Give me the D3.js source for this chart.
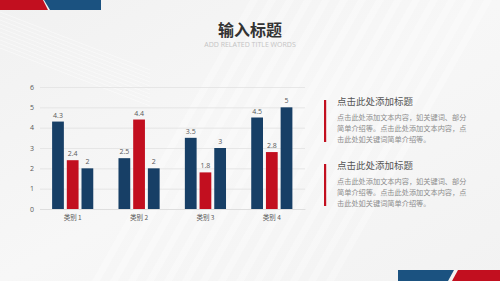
<!DOCTYPE html>
<html>
<head>
<meta charset="utf-8">
<script src="https://cdn.jsdelivr.net/npm/d3@7"></script>
<style>
  html, body { margin: 0; padding: 0; background: #f4f4f4; }
  svg { display: block; }
</style>
</head>
<body>
<svg class="slide" width="500" height="281"></svg>
<script>
// chart data
const categories = ['类别 1', '类别 2', '类别 3', '类别 4'];
const seriesNames = ['系列 1', '系列 2', '系列 3'];
const series1 = [4.3, 2.5, 3.5, 4.5];
const series2 = [2.4, 4.4, 1.8, 2.8];
const series3 = [2, 2, 3, 5];
const yTicks = [0, 1, 2, 3, 4, 5, 6];

// side text
const blockTitles = ['点击此处添加标题', '点击此处添加标题'];
const blockLines = [
  '点击此处添加文本内容，如关键词、部分',
  '简单介绍等。点击此处添加文本内容，点',
  '击此处如关键词简单介绍等。'
];

const blue = '#173f66';
const red = '#c20f1f';
const font = "'Noto Sans CJK SC', 'Noto Sans', sans-serif";

const svg = d3.select('svg.slide');

// background
const defs = svg.append('defs');
const bgGrad = defs.append('linearGradient')
    .attr('id', 'bgGrad')
    .attr('x1', 0).attr('y1', 0).attr('x2', 1).attr('y2', 1);
bgGrad.append('stop').attr('offset', '0%').attr('stop-color', '#f1f1f1');
bgGrad.append('stop').attr('offset', '50%').attr('stop-color', '#f7f7f7');
bgGrad.append('stop').attr('offset', '100%').attr('stop-color', '#f2f2f2');

svg.append('rect')
    .attr('width', 500).attr('height', 281)
    .attr('fill', 'url(#bgGrad)');

// faint diagonal stripes
const stripes = svg.append('g').attr('class', 'stripes');
d3.range(0, 14).forEach(i => {
  const x0 = 250 + i * 18;
  stripes.append('polygon')
    .attr('points', `${x0},0 ${x0 + 8},0 ${x0 - 150},281 ${x0 - 158},281`)
    .attr('fill', '#ffffff')
    .attr('opacity', 0.3);
});
d3.range(0, 10).forEach(i => {
  stripes.append('line')
    .attr('x1', 0).attr('y1', 12 + i * 4)
    .attr('x2', 150).attr('y2', 70 + i * 4)
    .attr('stroke', '#ffffff')
    .attr('stroke-width', 1)
    .attr('opacity', 0.45);
});

// corner decorations
const deco = svg.append('g').attr('class', 'deco');
deco.append('polygon').attr('points', '0,0 43,0 48,10 0,10').attr('fill', red);
deco.append('polygon').attr('points', '44,0 101,0 101,10 50,10').attr('fill', '#1b5280');
deco.append('polygon').attr('points', '398,270 454,270 448,281 398,281').attr('fill', '#1b5280');
deco.append('polygon').attr('points', '458,270 500,270 500,281 452,281').attr('fill', red);

// titles
svg.append('text')
    .attr('x', 250).attr('y', 36)
    .attr('text-anchor', 'middle')
    .style('font-family', font)
    .style('font-weight', 700)
    .style('font-size', '16px')
    .style('fill', '#333333')
    .text('输入标题');

svg.append('text')
    .attr('x', 250).attr('y', 47)
    .attr('text-anchor', 'middle')
    .style('font-family', "'Open Sans', sans-serif")
    .style('font-size', '7px')
    .style('fill', '#c4c4c4')
    .text('ADD RELATED TITLE WORDS');

// chart scales
const y = d3.scaleLinear().domain([0, 6]).range([209, 87]);
const x0 = d3.scaleBand().domain(categories).range([39.5, 305]).paddingInner(0.38).paddingOuter(0.19);
const x1 = d3.scaleBand().domain(seriesNames).range([0, x0.bandwidth()]).paddingInner(0.2);
const color = d3.scaleOrdinal().domain(seriesNames).range([blue, red, blue]);

const rows = categories.map((c, i) => ({
  cat: c,
  vals: [series1[i], series2[i], series3[i]].map((v, j) => ({ key: seriesNames[j], v }))
}));

const chart = svg.append('g').attr('class', 'chart');

// gridlines + y labels
const yAxis = d3.axisLeft(y).tickValues(yTicks).tickFormat(d3.format('d'))
    .tickSize(-(305 - 40)).tickPadding(6);
const yG = chart.append('g').attr('transform', 'translate(40,0)').call(yAxis);
yG.select('.domain').remove();
yG.selectAll('.tick line').attr('stroke', '#e2e2e2').attr('stroke-width', 0.8);
yG.selectAll('.tick text')
    .style('font-family', "'Open Sans', sans-serif")
    .style('font-size', '7px')
    .style('fill', '#595959');

// x labels
const xAxis = d3.axisBottom(x0).tickSize(0).tickPadding(6);
const xG = chart.append('g').attr('transform', 'translate(0,209)').call(xAxis);
xG.select('.domain').attr('stroke', '#dcdcdc').attr('stroke-width', 0.8);
xG.selectAll('.tick text')
    .style('font-family', font)
    .style('font-size', '6.5px')
    .style('fill', '#595959');

// bars
const groups = chart.selectAll('g.catGrp')
    .data(rows)
    .enter()
    .append('g')
    .attr('class', 'catGrp')
    .attr('transform', d => `translate(${x0(d.cat)},0)`);

groups.selectAll('rect')
    .data(d => d.vals)
    .enter()
    .append('rect')
    .attr('x', d => x1(d.key))
    .attr('y', d => y(d.v))
    .attr('width', x1.bandwidth())
    .attr('height', d => y(0) - y(d.v))
    .attr('fill', d => color(d.key));

groups.selectAll('text.valLabel')
    .data(d => d.vals)
    .enter()
    .append('text')
    .attr('class', 'valLabel')
    .attr('x', d => x1(d.key) + x1.bandwidth() / 2)
    .attr('y', d => y(d.v) - 4)
    .attr('text-anchor', 'middle')
    .style('font-family', "'Open Sans', sans-serif")
    .style('font-size', '7px')
    .style('fill', '#595959')
    .text(d => d.v);

// side text blocks
const blockTops = [100, 164];
blockTops.forEach((top, i) => {
  const g = svg.append('g').attr('class', 'textBlock');
  g.append('rect')
    .attr('x', 324).attr('y', top)
    .attr('width', 2.2).attr('height', 42)
    .attr('fill', red);
  g.append('text')
    .attr('x', 337).attr('y', top + 5)
    .style('font-family', font)
    .style('font-size', '9.5px')
    .style('fill', '#555555')
    .text(blockTitles[i]);
  blockLines.forEach((line, j) => {
    g.append('text')
      .attr('x', 337).attr('y', top + 20 + j * 11)
      .style('font-family', font)
      .style('font-size', '7.2px')
      .style('fill', '#8c8c8c')
      .text(line);
  });
});
</script>
</body>
</html>
